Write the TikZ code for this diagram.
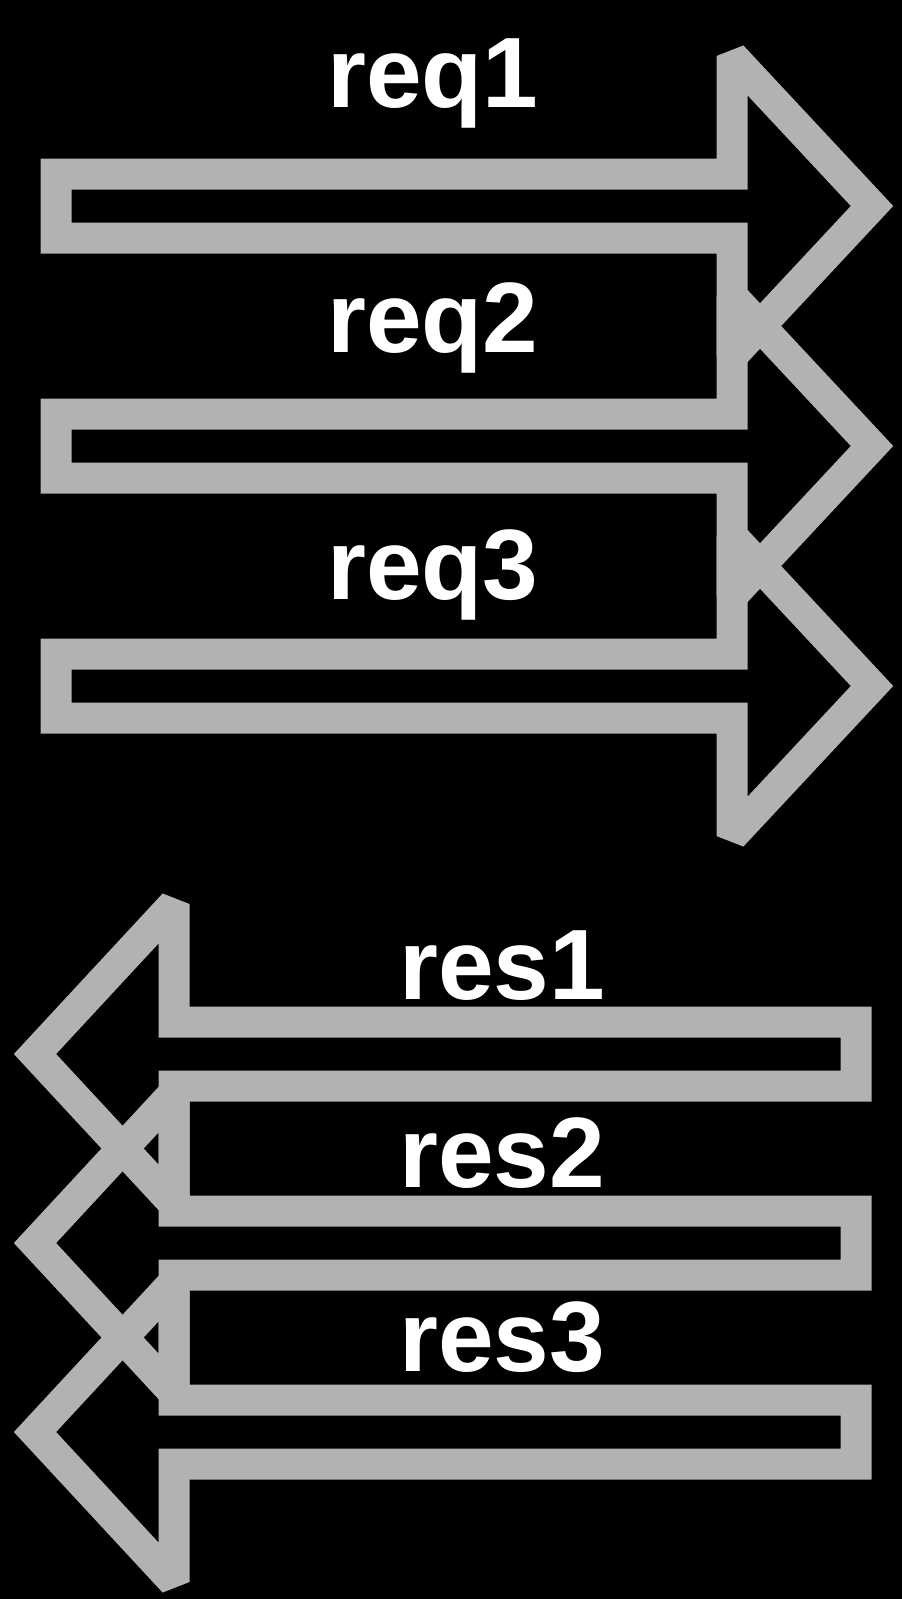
\documentclass[tikz,border=0pt]{standalone}
\usepackage{fontspec}
\setmainfont{Liberation Sans}
\definecolor{chalkgray}{RGB}{178,178,178}
\tikzset{
  chalk/.style={draw=chalkgray, line width=31pt, line join=miter, miter limit=2},
  lbl/.style={text=white, font=\fontsize{100}{100}\selectfont\bfseries, inner sep=0pt, anchor=base west}
}
\newcommand{\reqarrow}[1]{(56,#1-32) -- (732,#1-32) -- (732,#1-150) -- (872,#1)
     -- (732,#1+150) -- (732,#1+32) -- (56,#1+32) -- cycle}
\newcommand{\resarrow}[1]{(856,#1-32) -- (174,#1-32) -- (174,#1-150) -- (35,#1)
     -- (174,#1+150) -- (174,#1+32) -- (856,#1+32) -- cycle}
\begin{document}
\begin{tikzpicture}[x=1pt,y=-1pt]
\useasboundingbox (0,0) rectangle (902,1599);
\fill[black] (0,0) rectangle (902,1599);
% right-pointing request arrows
\foreach \cy in {206,446,686}{
  \draw[chalk] \reqarrow{\cy};
}
% left-pointing response arrows
\foreach \cy in {1054,1243,1432}{
  \draw[chalk] \resarrow{\cy};
}
\node[lbl] (req1) at (327,107) {req1};
\node[lbl] (req2) at (327,352) {req2};
\node[lbl] (req3) at (327,599) {req3};
\node[lbl] (res1) at (399,999) {res1};
\node[lbl] (res2) at (399,1187) {res2};
\node[lbl] (res3) at (399,1371) {res3};
\end{tikzpicture}
\end{document}
